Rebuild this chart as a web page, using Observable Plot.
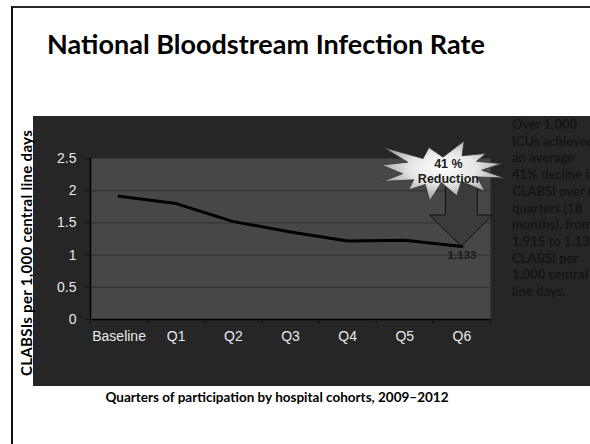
<!DOCTYPE html>
<html>
<head>
<meta charset="utf-8">
<script src="https://cdn.jsdelivr.net/npm/d3@7"></script>
<script src="https://cdn.jsdelivr.net/npm/@observablehq/plot@0.6"></script>
<style>
  html, body { margin: 0; padding: 0; background: #fff; }
  body { width: 590px; height: 444px; position: relative; overflow: hidden; font-family: Lato, "Open Sans", sans-serif; }
  .frame-top { position: absolute; left: 11px; top: 6px; width: 600px; height: 2px; background: #2a2a2a; }
  .frame-left { position: absolute; left: 11px; top: 6px; width: 2px; height: 460px; background: #111; }
  h1 { position: absolute; left: 0; top: 27px; width: 532px; margin: 0; text-align: center; font-size: 27px; font-weight: 700; color: #000; white-space: nowrap; }
  #chart { position: absolute; left: 33px; top: 116px; }
  .ylabel { position: absolute; left: 26px; top: 253px; transform: translate(-50%, -50%) rotate(-90deg); white-space: nowrap; font-size: 15px; letter-spacing: 0.3px; font-weight: 700; color: #000; }
  .note { position: absolute; left: 512px; top: 116px; width: 100px; font-size: 13px; line-height: 16.7px; font-weight: 700; color: #151515; white-space: nowrap; }
  .caption { position: absolute; left: 0; top: 389px; width: 554px; text-align: center; font-size: 13.5px; font-weight: 700; color: #000; white-space: nowrap; }
</style>
</head>
<body>
<div class="frame-top"></div>
<div class="frame-left"></div>
<h1>National Bloodstream Infection Rate</h1>
<div id="chart"></div>
<div class="ylabel">CLABSIs per 1,000 central line days</div>
<div class="note">Over 1,000<br>ICUs achieved<br>an average<br>41% decline in<br>CLABSI over 6<br>quarters (18<br>months), from<br>1.915 to 1.133<br>CLABSI per<br>1,000 central<br>line days.</div>
<div class="caption">Quarters of participation by hospital cohorts, 2009–2012</div>
<script>
// Quarterly CLABSI rates (per 1,000 central line days)
const quarters = ["Baseline", "Q1", "Q2", "Q3", "Q4", "Q5", "Q6"];
const rates = [1.915, 1.80, 1.52, 1.36, 1.22, 1.23, 1.133];
const yTicks = [0, 0.5, 1, 1.5, 2, 2.5];
const gridLines = [0.5, 1, 1.5, 2];
const reductionText = ["41 %", "Reduction"];
const highlight = [{quarter: "Q6", value: 1.133}];

const series = quarters.map((q, i) => ({quarter: q, pos: i + 0.5, rate: rates[i]}));
const annot = highlight.map(d => ({...d, pos: quarters.indexOf(d.quarter) + 0.5}));

// "Explosion" outline in a 21600-unit box
const sealPts = [[10800,5800],[14522,0],[14155,5325],[18380,4457],[16702,7315],[21097,8137],[17607,10475],[21600,13290],[16837,12942],[18145,18095],[14020,14457],[13247,19737],[10532,14935],[8485,21600],[7715,15627],[4762,17617],[5667,13937],[135,14587],[3722,11775],[0,8615],[4627,7617],[370,2295],[7312,6320],[8352,2295]];

// Block arrow pointing down to the highlighted value, with a burst callout above it
function callout(index, scales, values, dims, context) {
  const g = d3.create("svg:g");
  const defs = g.append("defs");
  const grad = defs.append("radialGradient").attr("id", "burstFill").attr("cx", "50%").attr("cy", "45%").attr("r", "60%");
  grad.append("stop").attr("offset", "0%").attr("stop-color", "#ffffff");
  grad.append("stop").attr("offset", "45%").attr("stop-color", "#e6e6e6");
  grad.append("stop").attr("offset", "100%").attr("stop-color", "#8c8c8c");
  for (const d of annot) {
    const tx = scales.x(d.pos), ty = scales.y(d.value);
    g.append("path")
      .attr("d", `M${tx},${ty} L${tx - 32},${ty - 31} L${tx - 16},${ty - 31} L${tx - 16},${ty - 72} L${tx + 16},${ty - 72} L${tx + 16},${ty - 31} L${tx + 31},${ty - 31} Z`)
      .attr("fill", "#3b3b3b").attr("stroke", "#111").attr("stroke-width", 1);
    const bx = tx - 80, by = ty - 105, bw = 123, bh = 60;
    const pts = sealPts.map(([X, Y]) => [bx + X / 21600 * bw, by + Y / 21600 * bh]);
    g.append("path").attr("d", "M" + pts.join("L") + "Z")
      .attr("fill", "url(#burstFill)").attr("stroke", "#333").attr("stroke-width", 0.8);
    reductionText.forEach((t, k) => {
      g.append("text").attr("x", tx - 13).attr("y", ty - 81 + k * 14.5)
        .attr("text-anchor", "middle").attr("dominant-baseline", "middle")
        .attr("font-family", "'Liberation Sans', Arial, sans-serif").attr("font-weight", "bold")
        .attr("font-size", 12.5).attr("fill", "#1a1a1a").text(t);
    });
  }
  return g.node();
}

const chart = Plot.plot({
  width: 557,
  height: 270,
  marginLeft: 57,
  marginRight: 100,
  marginTop: 42,
  marginBottom: 67,
  style: {background: "#262626", fontFamily: "'Liberation Sans', Arial, sans-serif", fontSize: "14px", overflow: "visible"},
  x: {domain: [0, quarters.length]},
  y: {domain: [0, 2.5]},
  marks: [
    Plot.frame({fill: "#474747", stroke: null}),
    Plot.ruleY(gridLines, {stroke: "#2f2f2f", strokeWidth: 1}),
    Plot.line(series, {x: "pos", y: "rate", stroke: "#000", strokeWidth: 3}),
    Plot.ruleY([0], {stroke: "#000", strokeWidth: 1.5}),
    Plot.ruleX([0], {stroke: "#000", strokeWidth: 1.5}),
    Plot.axisY({ticks: yTicks, tickSize: 5, tickPadding: 9, stroke: "#111", fill: "#e8e8e8", tickFormat: d => String(d), label: null}),
    Plot.axisX({ticks: d3.range(quarters.length + 1), tickSize: 5, stroke: "#111", tickFormat: () => "", label: null}),
    Plot.axisX({ticks: series.map(d => d.pos), tickSize: 0, tickPadding: 12, fill: "#e8e8e8", tickFormat: p => quarters[Math.floor(p)], label: null}),
    callout,
    Plot.text(annot, {x: "pos", y: "value", text: d => d.value.toFixed(3), dy: 9, fill: "#1c1c1c", fontWeight: "bold", fontSize: 11.5})
  ]
});
document.getElementById("chart").appendChild(chart);
</script>
</body>
</html>
